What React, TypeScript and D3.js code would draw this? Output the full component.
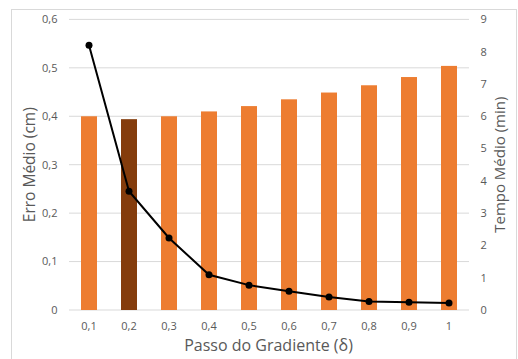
import React from "react";
import * as d3 from "d3";

const categories = ["0,1", "0,2", "0,3", "0,4", "0,5", "0,6", "0,7", "0,8", "0,9", "1"];
const erroMedio = [0.4, 0.394, 0.4, 0.41, 0.421, 0.435, 0.449, 0.464, 0.481, 0.504];
const tempoMedio = [8.2, 3.68, 2.23, 1.09, 0.77, 0.58, 0.4, 0.26, 0.24, 0.22];
const leftTicks = [0, 0.1, 0.2, 0.3, 0.4, 0.5, 0.6];
const rightTicks = [0, 1, 2, 3, 4, 5, 6, 7, 8, 9];
const highlighted = "0,2";

const W = 518;
const H = 359;
const plot = { left: 69, right: 469, top: 19.4, bottom: 310 };
const font = "'Open Sans', 'Liberation Sans', sans-serif";
const tickColor = "#595959";

export default function App() {
  const x = d3
    .scaleBand<string>()
    .domain(categories)
    .range([plot.left, plot.right])
    .paddingInner(0.6)
    .paddingOuter(0.3);
  const yL = d3.scaleLinear().domain([0, 0.6]).range([plot.bottom, plot.top]);
  const yR = d3.scaleLinear().domain([0, 9]).range([plot.bottom, plot.top]);

  const line = d3
    .line<number>()
    .x((_, i) => (x(categories[i]) as number) + x.bandwidth() / 2)
    .y((d) => yR(d));

  const fmt = (v: number) => (v === 0 ? "0" : d3.format(".1f")(v).replace(".", ","));

  return (
    <svg
      width={W}
      height={H}
      style={{ position: "absolute", left: 0, top: 0, background: "#fff" }}
      fontFamily={font}
    >
      <rect x={11.5} y={9.5} width={505} height={360} fill="#fff" stroke="#d9d9d9" />
      {leftTicks.map((t) => (
        <g key={t}>
          <line
            x1={plot.left}
            x2={plot.right}
            y1={yL(t)}
            y2={yL(t)}
            stroke="#d9d9d9"
            strokeWidth={1}
          />
          <text
            x={57.5}
            y={yL(t)}
            dy="0.35em"
            textAnchor="end"
            fontSize={11}
            fill={tickColor}
          >
            {fmt(t)}
          </text>
        </g>
      ))}
      {rightTicks.map((t) => (
        <text
          key={t}
          x={480.5}
          y={yR(t)}
          dy="0.35em"
          textAnchor="start"
          fontSize={11}
          fill={tickColor}
        >
          {t}
        </text>
      ))}
      {categories.map((c, i) => (
        <rect
          key={c}
          x={x(c)}
          y={yL(erroMedio[i])}
          width={x.bandwidth()}
          height={plot.bottom - yL(erroMedio[i])}
          fill={c === highlighted ? "#843C0C" : "#ED7D31"}
        />
      ))}
      {categories.map((c) => (
        <text
          key={c}
          x={(x(c) as number) + x.bandwidth() / 2}
          y={326}
          dy="0.35em"
          textAnchor="middle"
          fontSize={11}
          fill={tickColor}
        >
          {c}
        </text>
      ))}
      <path d={line(tempoMedio) ?? ""} fill="none" stroke="#000" strokeWidth={2} />
      {tempoMedio.map((v, i) => (
        <circle
          key={i}
          cx={(x(categories[i]) as number) + x.bandwidth() / 2}
          cy={yR(v)}
          r={3.5}
          fill="#000"
        />
      ))}
      <text
        transform={`translate(30,${(plot.top + plot.bottom) / 2}) rotate(-90)`}
        textAnchor="middle"
        dy="0.35em"
        fontSize={15.5}
        fill={tickColor}
      >
        Erro Médio (cm)
      </text>
      <text
        transform={`translate(500,${(plot.top + plot.bottom) / 2}) rotate(-90)`}
        textAnchor="middle"
        dy="0.35em"
        fontSize={15}
        fill={tickColor}
      >
        Tempo Médio (min)
      </text>
      <text
        x={268.5}
        y={345}
        dy="0.35em"
        textAnchor="middle"
        fontSize={16}
        fill={tickColor}
      >
        Passo do Gradiente (δ)
      </text>
    </svg>
  );
}
